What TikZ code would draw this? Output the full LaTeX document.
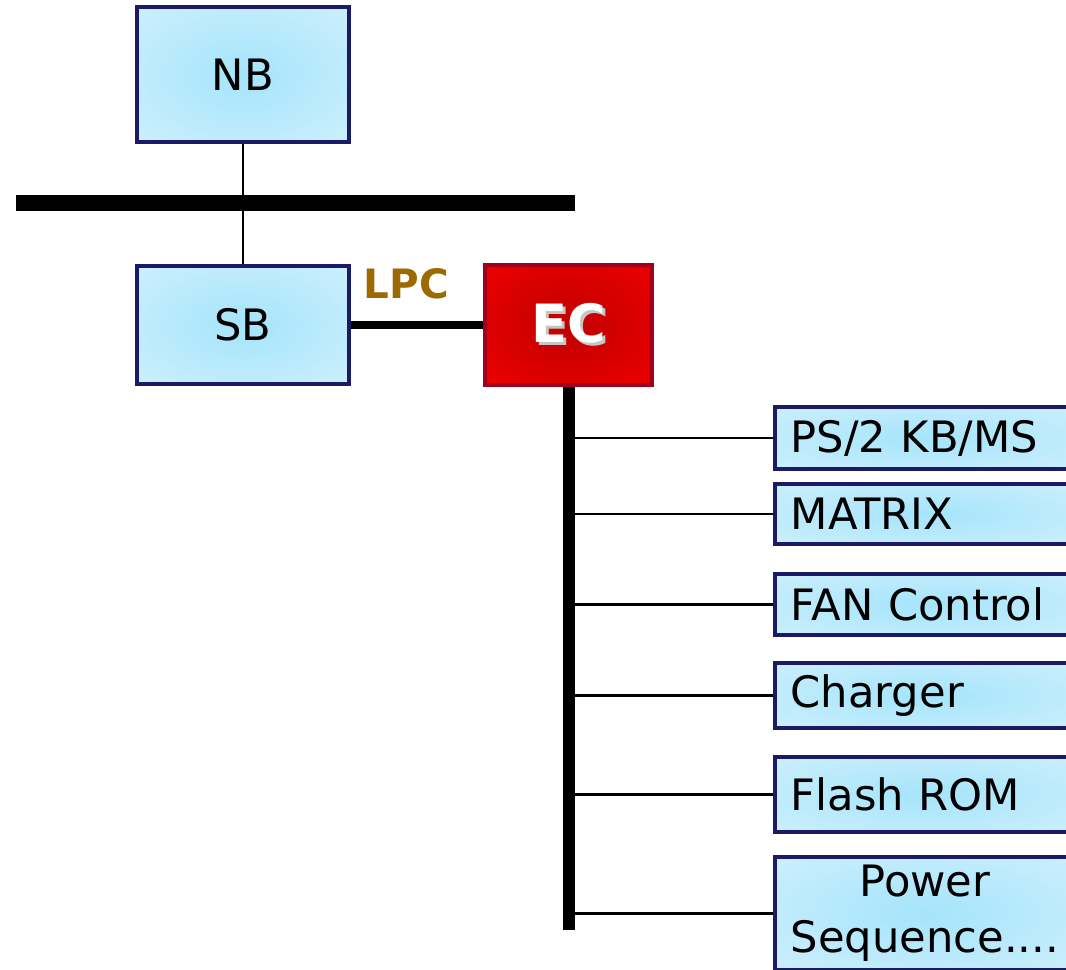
\documentclass[tikz,border=0pt]{standalone}
\usepackage{fontspec}
\setmainfont{DejaVu Sans}
\usetikzlibrary{positioning}
\definecolor{boxnavy}{RGB}{26,26,102}
\definecolor{chipin}{RGB}{165,228,251}
\definecolor{chipout}{RGB}{218,243,253}
\definecolor{ecedge}{RGB}{160,0,30}
\definecolor{ecin}{RGB}{192,0,0}
\definecolor{ecout}{RGB}{245,0,0}
\definecolor{lpcbrown}{RGB}{156,106,0}
\pgfdeclareradialshading{chipglow}{\pgfpoint{0bp}{0bp}}
  {color(0bp)=(chipin); color(48bp)=(chipout); color(72bp)=(chipout)}
\pgfdeclareradialshading{ecglow}{\pgfpoint{0bp}{0bp}}
  {color(0bp)=(ecin); color(42bp)=(ecout); color(72bp)=(ecout)}

\begin{document}
\begin{tikzpicture}[x=0.01cm, y=0.01cm,
  chip/.style={draw=boxnavy, line width=1pt, shading=chipglow,
    font=\fontsize{12.3}{16}\selectfont},
  part/.style={chip, anchor=west, text width=2.7cm, align=left, inner xsep=0.16cm},
  ecbox/.style={draw=ecedge, line width=1pt, shading=ecglow,
    text=white, font=\fontsize{15}{18}\selectfont\bfseries},
  bar/.style={fill=black, inner sep=0pt, outer sep=0pt},
  wire/.style={line width=0.7pt},
  lpcline/.style={line width=0.08cm},
  lpclabel/.style={text=lpcbrown, inner sep=0pt, font=\fontsize{11.5}{14}\selectfont\bfseries}]
  \useasboundingbox (0,0) rectangle (1066,969);

  \node[chip, minimum width=2.12cm, minimum height=1.35cm] (nb) at (243,894.5) {NB};
  \node[chip, minimum width=2.12cm, minimum height=1.18cm] (sb) at (243,644) {SB};
  \node[ecbox, minimum width=1.67cm, minimum height=1.2cm] (ec) at (568.5,644)
    {\rlap{\kern1pt\raisebox{-1pt}{\color{gray!45}EC}}EC};

  \draw[wire] (nb.south) -- (sb.north);
  \node[bar, minimum width=5.59cm, minimum height=0.16cm] (hbus) at (295.5,766) {};

  \draw[lpcline] (sb.east) -- node[lpclabel, pos=0.42, above=0.22cm] {LPC} (ec.west);

  \node[bar, minimum width=0.12cm, minimum height=5.43cm, below=0pt of ec] (ecbus) {};

  \node[part, minimum height=0.62cm] (ps2) at (773,531) {PS/2 KB/MS};
  \node[part, minimum height=0.60cm] (matrix) at (773,455) {MATRIX};
  \node[part, minimum height=0.61cm] (fan) at (773,364.5) {FAN Control};
  \node[part, minimum height=0.61cm] (charger) at (773,273.5) {Charger};
  \node[part, minimum height=0.75cm] (flash) at (773,174.5) {Flash ROM};
  \node[part, minimum height=1.05cm, inner ysep=0pt] (power) at (773,55.5)
    {\begin{tabular}{@{}c@{}}Power\\Sequence....\end{tabular}};

  \foreach \p in {ps2,matrix,fan,charger,flash,power}
    \draw[wire] (ecbus.east |- \p.west) -- (\p.west);
\end{tikzpicture}
\end{document}
